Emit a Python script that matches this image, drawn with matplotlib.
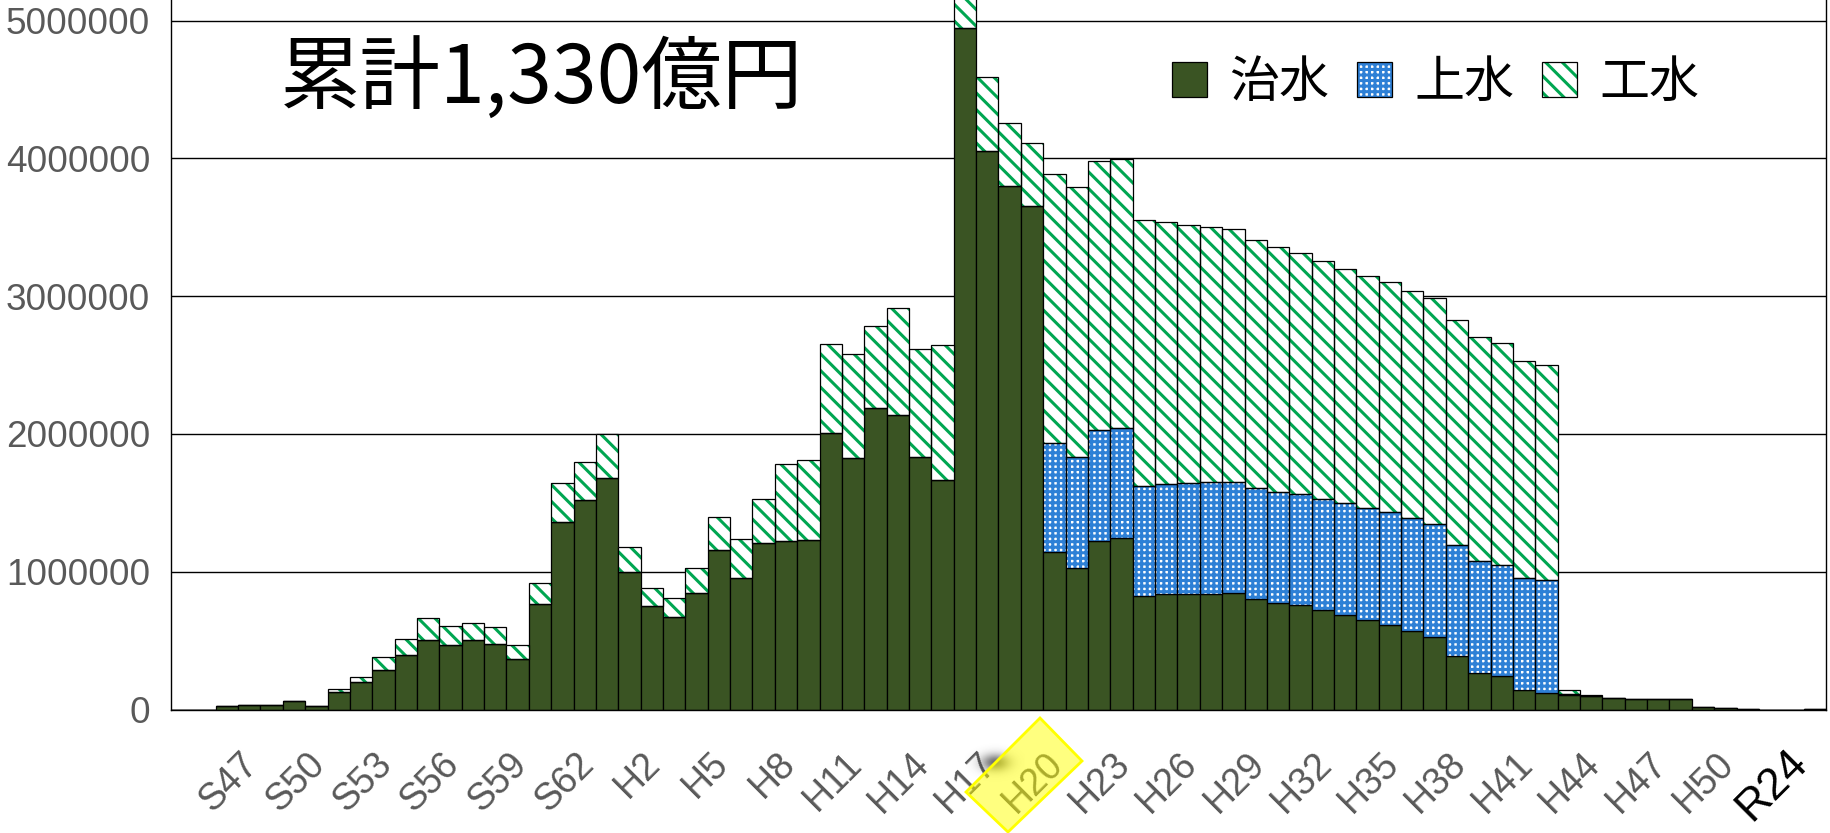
import numpy as np
import matplotlib
import matplotlib.pyplot as plt
from matplotlib.patches import Polygon, Patch
from matplotlib.legend_handler import HandlerTuple
from matplotlib.transforms import ScaledTranslation

# 年度 (S45〜H55)
nendo = ['S%d' % y for y in range(45, 64)] + ['H%d' % y for y in range(1, 56)]

# 治水
chisui = [0, 0, 24000, 34000, 31000, 60000, 24000, 126000, 201000, 285000,
          392000, 505000, 467000, 508000, 474000, 367000, 764000, 1364000, 1524000, 1684000,
          1001000, 750000, 668000, 844000, 1157000, 951000, 1207000, 1224000, 1231000, 2007000,
          1824000, 2190000, 2140000, 1834000, 1667000, 4949000, 4056000, 3800000, 3656000, 1141000,
          1028000, 1224000, 1244000, 824000, 836000, 842000, 842000, 848000, 799000, 773000,
          756000, 721000, 687000, 647000, 615000, 573000, 529000, 386000, 262000, 244000,
          141000, 120000, 108000, 98000, 83000, 79000, 79000, 79000, 15000, 12000,
          5000, 0, 0, 3000]
# 上水
jousui = [0] * 39 + [792000, 806000, 803000, 800000, 800000, 800000, 803000, 806000, 803000, 806000,
                     809000, 806000, 810000, 809000, 815000, 815000, 814000, 815000, 809000, 813000,
                     807000, 814000, 820000, 8000] + [0] * 11
# 工水
kousui = [0, 0, 0, 0, 0, 0, 0, 26000, 36000, 97000,
          121000, 160000, 138000, 121000, 127000, 100000, 153000, 280000, 276000, 313000,
          176000, 134000, 139000, 183000, 237000, 289000, 320000, 560000, 579000, 643000,
          753000, 593000, 776000, 783000, 976000, 450000, 533000, 456000, 453000, 1956000,
          1956000, 1956000, 1952000, 1926000, 1902000, 1874000, 1857000, 1834000, 1805000, 1774000,
          1751000, 1725000, 1702000, 1684000, 1670000, 1653000, 1644000, 1630000, 1626000, 1607000,
          1572000, 1563000, 22000, 6000, 0, 0, 0, 0, 0, 0,
          0, 0, 0, 0]

tick_idx = list(range(2, 69, 3))
tick_labels = [nendo[i] for i in tick_idx]

chisui = np.array(chisui)
jousui = np.array(jousui)
kousui = np.array(kousui)
x = np.arange(len(nendo))

plt.rcParams['hatch.linewidth'] = 2.2

W, H = 1831, 833
fig = plt.figure(figsize=(W / 100, H / 100), dpi=100)
ax = fig.add_axes([171 / W, (H - 709.5) / H, (1826 - 171) / W, 709.5 / H])

c_green = '#3A5423'
c_blue = '#2E80D6'
c_stripe = '#00A651'

b1 = ax.bar(x, chisui, width=1.0, color=c_green, edgecolor='black', linewidth=0.9, zorder=2)

b2 = ax.bar(x, jousui, bottom=chisui, width=1.0, facecolor='white',
            edgecolor=c_blue, hatch='+++', linewidth=0, zorder=2)
b2o = ax.bar(x, jousui, bottom=chisui, width=1.0, fill=False,
             edgecolor='black', linewidth=0.9, zorder=3)

b3 = ax.bar(x, kousui, bottom=chisui + jousui, width=1.0, facecolor='white',
            edgecolor=c_stripe, hatch='\\\\', linewidth=0, zorder=2)
b3o = ax.bar(x, kousui, bottom=chisui + jousui, width=1.0, fill=False,
             edgecolor='black', linewidth=0.9, zorder=3)

ax.set_xlim(-0.5, len(nendo) - 0.5)
ax.set_ylim(0, 5.15e6)
ax.set_yticks(np.arange(0, 5000001, 1000000))
ax.set_yticklabels(['%d' % v for v in np.arange(0, 5000001, 1000000)])
ax.yaxis.grid(True, color='black', linewidth=1.0)
ax.set_axisbelow(True)

ax.set_xticks(tick_idx)
ax.set_xticklabels(tick_labels, rotation=45, ha='right', va='top', rotation_mode='anchor')
ax.tick_params(axis='x', length=0, pad=26, labelsize=27, labelcolor='#595959')
ax.tick_params(axis='y', length=0, pad=15, labelsize=26.6, labelcolor='#595959')
for lab in ax.get_xticklabels():
    lab.set_fontfamily('Liberation Sans')
    lab.set_transform(lab.get_transform() + ScaledTranslation(0.13, 0, fig.dpi_scale_trans))
for lab in ax.get_yticklabels():
    lab.set_fontfamily('Liberation Sans')

ax.spines['top'].set_visible(False)
for s in ['left', 'right', 'bottom']:
    ax.spines[s].set_color('black')
    ax.spines[s].set_linewidth(1.0)

jp = ['Noto Sans CJK JP', 'DejaVu Sans']
fig.text(280 / W, 1 - 80 / H, '累計1,330億円', fontsize=58, family=jp, ha='left', va='center')

h_green = Patch(facecolor=c_green, edgecolor='black', linewidth=0.9)
h_blue = Patch(facecolor='white', edgecolor=c_blue, hatch='+++', linewidth=0)
h_str = Patch(facecolor='white', edgecolor=c_stripe, hatch='\\\\', linewidth=0)
h_out1 = Patch(fill=False, edgecolor='black', linewidth=0.9)
h_out2 = Patch(fill=False, edgecolor='black', linewidth=0.9)
fig.legend([h_green, (h_blue, h_out1), (h_str, h_out2)], ['治水', '上水', '工水'],
           handler_map={tuple: HandlerTuple(ndivide=1)},
           ncol=3, frameon=False, prop={'family': jp, 'size': 36},
           handlelength=0.7, handleheight=0.7, handletextpad=0.45, columnspacing=0.55,
           loc='center left', bbox_to_anchor=(1172 / W, 1 - 83 / H), borderpad=0, borderaxespad=0)

fig.text(1786 / W, 1 - 742 / H, 'R24', fontsize=32, family='Liberation Sans', color='black',
         rotation=45, rotation_mode='anchor', ha='right', va='top',
         bbox=dict(facecolor='white', edgecolor='none', pad=1))

# 影
yy, xx = np.mgrid[0:60, 0:60]
blob = np.zeros((60, 60, 4))
blob[..., :3] = 0.25
blob[..., 3] = 0.75 * np.exp(-((xx - 30) ** 2 / (2 * 10 ** 2) + (yy - 30) ** 2 / (2 * 6 ** 2)))
fig.figimage(blob, xo=995 - 30, yo=(H - 762) - 30, zorder=1)

pts = [(1040, 718), (1082, 761), (1008, 832), (966, 792)]
fig.patches.append(Polygon([(px / W, 1 - py / H) for px, py in pts], closed=True,
                           transform=fig.transFigure, facecolor=(1, 1, 0, 0.5),
                           edgecolor=(1, 1, 0, 1), linewidth=2, zorder=5))

fig.savefig('out.png', dpi=100)
